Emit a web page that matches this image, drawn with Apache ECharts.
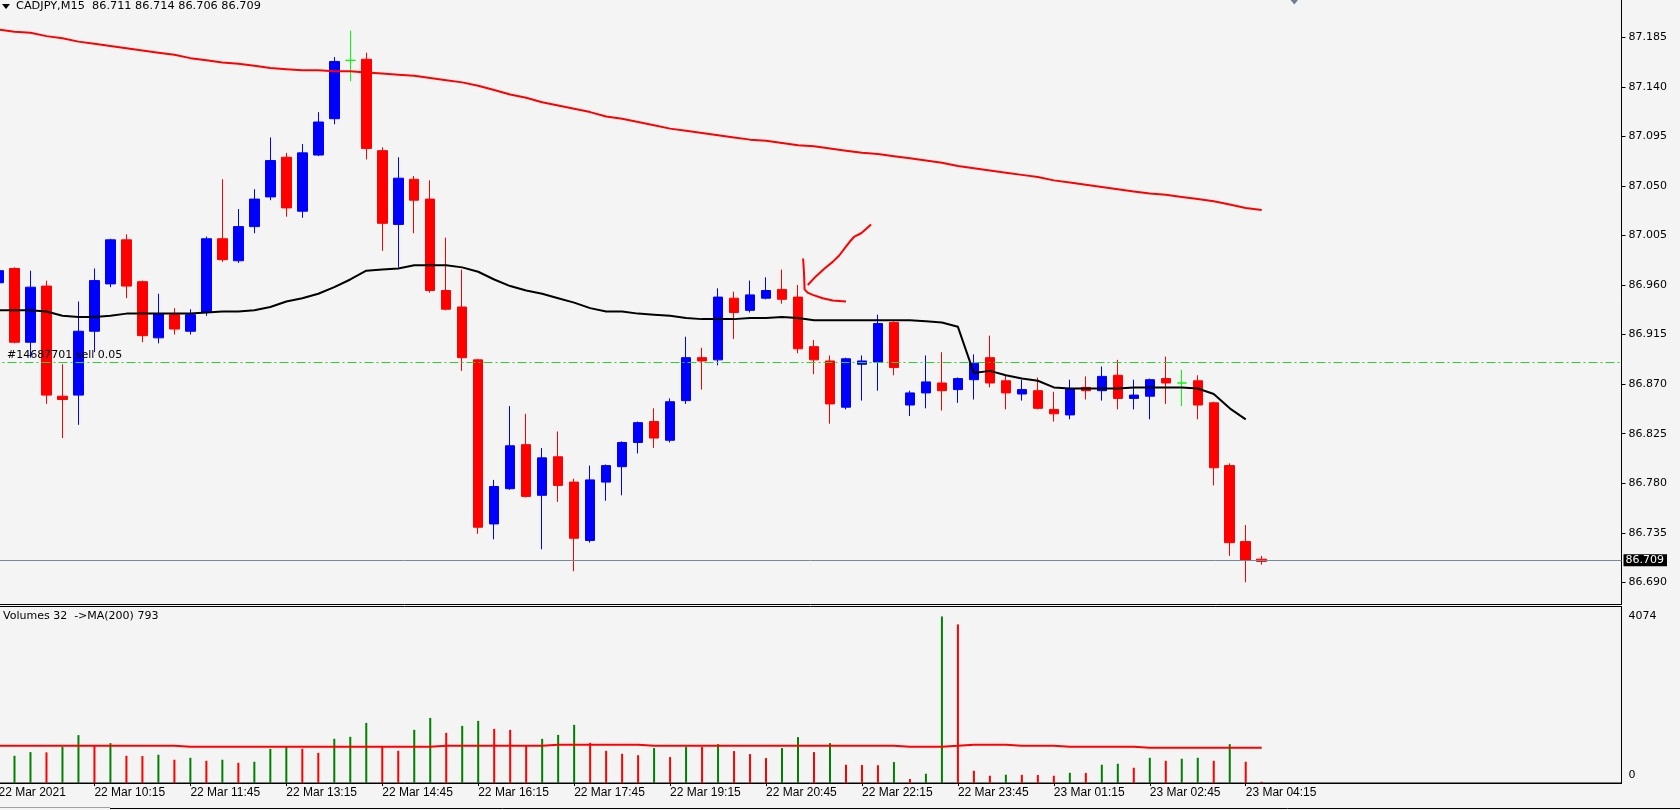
<!DOCTYPE html>
<html>
<head>
<meta charset="utf-8">
<script src="https://cdn.jsdelivr.net/npm/echarts@6/dist/echarts.min.js"></script>
<style>
html,body{margin:0;padding:0;background:#f4f4f4;}
#chart{width:1680px;height:810px;}
</style>
</head>
<body>
<div id="chart"></div>
<script>
// ---------------- DATA ----------------
const symbolName = 'CADJPY,M15';
// time-scale tick labels, one every 6 bars starting at the first (partly hidden) bar
const tickLabels = ['22 Mar 2021','22 Mar 10:15','22 Mar 11:45','22 Mar 13:15','22 Mar 14:45','22 Mar 16:15',
  '22 Mar 17:45','22 Mar 19:15','22 Mar 20:45','22 Mar 22:15','22 Mar 23:45','23 Mar 01:15','23 Mar 02:45','23 Mar 04:15'];
const emptySlots = 22; // chart shift space on the right

const opens  = [86.962,86.975,86.908,86.959,86.859,86.860,86.918,86.961,87.001,86.963,86.912,86.933,86.918,86.935,87.002,86.982,
  87.013,87.040,87.076,87.027,87.078,87.111,87.164,87.165,87.082,87.015,87.056,87.038,86.955,86.940,86.892,86.743,
  86.775,86.815,86.769,86.804,86.781,86.728,86.781,86.795,86.817,86.836,86.819,86.855,86.894,86.892,86.948,86.937,
  86.948,86.956,86.949,86.904,86.891,86.849,86.888,86.890,86.926,86.851,86.862,86.871,86.865,86.874,86.894,86.873,
  86.861,86.864,86.847,86.842,86.867,86.864,86.878,86.857,86.859,86.875,86.871,86.873,86.853,86.796,86.727,86.711];
const highs  = [86.975,86.976,86.973,86.964,86.888,86.945,86.975,87.002,87.006,86.964,86.952,86.939,86.938,87.004,87.056,87.029,
  87.047,87.094,87.080,87.088,87.117,87.167,87.191,87.171,87.085,87.076,87.059,87.055,87.003,86.974,86.893,86.783,
  86.850,86.843,86.812,86.827,86.784,86.796,86.797,86.818,86.836,86.848,86.857,86.913,86.903,86.957,86.954,86.964,
  86.967,86.974,86.960,86.910,86.896,86.894,86.896,86.933,86.927,86.864,86.896,86.899,86.876,86.897,86.914,86.878,
  86.874,86.876,86.863,86.874,86.877,86.886,86.892,86.874,86.875,86.895,86.883,86.878,86.854,86.798,86.742,86.714];
const lows   = [86.955,86.907,86.894,86.852,86.821,86.833,86.899,86.958,86.948,86.908,86.907,86.915,86.915,86.932,86.981,86.980,
  87.007,87.037,87.022,87.021,87.077,87.106,87.145,87.074,86.991,86.976,87.007,86.953,86.937,86.882,86.734,86.729,
  86.774,86.767,86.720,86.763,86.700,86.726,86.764,86.769,86.807,86.812,86.817,86.852,86.865,86.887,86.911,86.935,
  86.947,86.943,86.898,86.879,86.834,86.847,86.855,86.864,86.878,86.841,86.848,86.846,86.853,86.856,86.867,86.847,
  86.855,86.847,86.836,86.838,86.856,86.855,86.847,86.847,86.838,86.852,86.850,86.838,86.778,86.714,86.690,86.706];
const closes = [86.973,86.908,86.958,86.860,86.856,86.918,86.964,87.001,86.959,86.914,86.934,86.920,86.933,87.002,86.983,87.013,
  87.038,87.073,87.030,87.080,87.108,87.163,87.164,87.084,87.016,87.057,87.037,86.955,86.938,86.894,86.740,86.777,
  86.814,86.768,86.803,86.778,86.730,86.783,86.796,86.817,86.835,86.821,86.854,86.894,86.891,86.949,86.935,86.951,
  86.955,86.947,86.902,86.892,86.852,86.893,86.891,86.925,86.885,86.862,86.872,86.864,86.875,86.889,86.871,86.862,
  86.865,86.848,86.843,86.866,86.864,86.877,86.857,86.860,86.874,86.871,86.871,86.851,86.794,86.726,86.710,86.709];

// moving averages on the price window
const maRed   = [87.192,87.190,87.189,87.186,87.184,87.181,87.179,87.177,87.175,87.173,87.171,87.169,87.166,87.164,87.162,87.161,
  87.159,87.157,87.156,87.155,87.155,87.154,87.154,87.153,87.152,87.151,87.150,87.148,87.146,87.144,87.141,87.137,
  87.133,87.130,87.126,87.123,87.120,87.117,87.113,87.111,87.108,87.105,87.102,87.100,87.098,87.096,87.094,87.092,
  87.091,87.089,87.087,87.086,87.084,87.082,87.080,87.079,87.077,87.075,87.073,87.071,87.068,87.066,87.064,87.062,
  87.060,87.058,87.055,87.053,87.051,87.049,87.047,87.045,87.043,87.042,87.040,87.038,87.036,87.033,87.030,87.028];
const maBlack = [86.937,86.937,86.937,86.936,86.932,86.931,86.931,86.932,86.934,86.934,86.934,86.934,86.934,86.935,86.936,86.936,
  86.937,86.940,86.945,86.948,86.952,86.958,86.965,86.973,86.974,86.975,86.978,86.978,86.978,86.976,86.972,86.965,
  86.959,86.955,86.952,86.948,86.944,86.939,86.936,86.936,86.934,86.933,86.932,86.930,86.929,86.929,86.929,86.930,
  86.930,86.931,86.930,86.928,86.928,86.928,86.928,86.928,86.928,86.928,86.927,86.926,86.922,86.880,86.882,86.878,
  86.875,86.873,86.867,86.866,86.866,86.866,86.866,86.867,86.867,86.867,86.867,86.866,86.861,86.848,86.838,null];

// volumes window
const volumes = [600,666,756,750,886,1171,910,976,666,660,691,569,617,544,569,495,
  520,837,886,837,739,1081,1130,1471,886,788,1300,1593,1227,1398,1520,1325,
  1300,910,1081,1178,1423,983,788,715,680,854,634,886,880,951,781,708,
  610,854,1122,756,976,447,440,435,512,98,227,4074,3880,300,178,203,
  200,195,178,251,248,447,471,373,617,544,593,617,544,951,520,32];
const volumeMA = [910,910,910,910,910,910,910,910,910,910,910,910,886,886,886,886,
  886,886,886,886,886,886,886,886,886,886,886,886,910,910,910,910,
  910,910,910,935,935,935,935,935,935,910,910,910,910,910,910,910,
  910,910,910,910,910,910,910,910,910,886,886,886,910,935,935,935,
  910,910,910,886,886,886,886,886,861,861,861,861,861,861,861,861];
const volumeMALabel = 793;

const priceTicks = [86.690,86.735,86.780,86.825,86.870,86.915,86.960,87.005,87.050,87.095,87.140,87.185];
const volumeTicks = [0, 4074];
const bidPrice = 86.709;
const orderPrice = 86.888;
const orderLabel = '#14687701 sell 0.05';

// hand-drawn red annotation, [bar position, price]
const sketchStroke1 = [[49.32,86.984],[49.38,86.970],[49.41,86.956],[49.60,86.953],[49.92,86.951],[50.55,86.948],[51.17,86.946],[52.00,86.945]];
const sketchStroke2 = [[49.61,86.960],[50.13,86.968],[50.66,86.975],[51.17,86.981],[51.59,86.987],[52.01,86.995],[52.22,86.999],[52.53,87.004],[52.95,87.007],[53.27,87.011],[53.57,87.015]];

// ---------------- BUILD ----------------
const nBars = opens.length;
const nSlots = nBars + emptySlots;
const slotLabels = Array.from({length: nSlots}, (_, i) =>
  (i % 6 === 0 && i / 6 < tickLabels.length) ? tickLabels[i / 6] : '');
const categories = slotLabels.map((_, i) => String(i));

const GREEN_DOJI = '#00ff00';
const candleData = opens.map((o, i) => {
  const item = {value: [o, closes[i], lows[i], highs[i]]};
  if (o === closes[i]) {
    item.itemStyle = {color: GREEN_DOJI, color0: GREEN_DOJI, borderColor: GREEN_DOJI, borderColor0: GREEN_DOJI};
  }
  return item;
});
const volData = volumes.map((v, i) => ({
  value: v,
  itemStyle: {color: (i === 0 || v > volumes[i - 1]) ? '#008000' : '#ff0000'}
}));

const last = nBars - 1;
const fmt = v => v.toFixed(3);
const headerText = `${symbolName}  ${fmt(opens[last])} ${fmt(highs[last])} ${fmt(lows[last])} ${fmt(closes[last])}`;
const volText = `Volumes ${volumes[last]}  ->MA(200) ${volumeMALabel}`;

const FONT = 'DejaVu Sans';
const TIMEFONT = 'Liberation Sans';

const chart = echarts.init(document.getElementById('chart'), null, {renderer: 'canvas'});
const GRID_LEFT = -9.5, GRID_W = 1631;

const option = {
  animation: false,
  backgroundColor: '#f4f4f4',
  title: [
    {text: headerText, left: 16, top: 0.5, padding: 0,
     textStyle: {fontFamily: FONT, fontSize: 11.3, fontWeight: 'normal', color: '#000'}},
    {text: volText, left: 3, top: 611, padding: 0,
     textStyle: {fontFamily: FONT, fontSize: 11, fontWeight: 'normal', color: '#000'}}
  ],
  grid: [
    {left: GRID_LEFT, width: GRID_W, top: 0, height: 604, outerBoundsMode: 'none', containLabel: false},
    {left: GRID_LEFT, width: GRID_W, top: 606.5, height: 176.5, show: true, outerBoundsMode: 'none', containLabel: false,
     borderColor: '#000', borderWidth: 1, backgroundColor: 'transparent'}
  ],
  xAxis: [
    {type: 'category', gridIndex: 0, data: categories, boundaryGap: true,
     axisLine: {show: true, onZero: false, lineStyle: {color: '#000', width: 1}},
     axisTick: {show: false}, axisLabel: {show: false}, splitLine: {show: false}},
    {type: 'category', gridIndex: 1, data: categories, boundaryGap: true,
     axisLine: {show: true, onZero: false, lineStyle: {color: '#000', width: 1}},
     axisTick: {show: true, alignWithLabel: true, length: 3, lineStyle: {color: '#000'},
       interval: (idx) => slotLabels[idx] !== ''},
     axisLabel: {show: true, interval: (idx) => slotLabels[idx] !== '',
       formatter: (val, idx) => slotLabels[idx], align: 'left', margin: 4,
       color: '#000', fontFamily: TIMEFONT, fontSize: 12},
     splitLine: {show: false}},
    {type: 'value', gridIndex: 0, min: -1.5, max: nSlots - 1.5, show: false,
     axisLine: {onZero: false}}
  ],
  yAxis: [
    {type: 'value', gridIndex: 0, position: 'right', min: 86.6703, max: 87.2188,
     axisLine: {show: true, onZero: false, lineStyle: {color: '#000', width: 1}},
     axisTick: {show: true, customValues: priceTicks, length: 4, lineStyle: {color: '#000'}},
     axisLabel: {customValues: priceTicks, formatter: v => v.toFixed(3), margin: 7,
       color: '#000', fontFamily: FONT, fontSize: 11},
     splitLine: {show: false}},
    {type: 'value', gridIndex: 1, position: 'right', min: 0, max: 4318,
     axisLine: {show: true, onZero: false, lineStyle: {color: '#000', width: 1}},
     axisTick: {show: false},
     axisLabel: {customValues: volumeTicks, margin: 7, color: '#000', fontFamily: FONT, fontSize: 11,
       formatter: v => v === 0 ? '{z|0}' : String(v),
       rich: {z: {padding: [0, 0, 16, 0], fontFamily: FONT, fontSize: 11, color: '#000'}}},
     splitLine: {show: false}}
  ],
  series: [
    {type: 'line', name: 'levels', xAxisIndex: 0, yAxisIndex: 0, data: [], z: 1, silent: true,
     markLine: {symbol: ['none', 'none'], silent: true, animation: false,
       data: [
         {yAxis: orderPrice, lineStyle: {color: '#32cd32', type: [9, 3, 2, 3], width: 1},
          label: {show: true, position: 'insideStartTop', formatter: orderLabel, distance: [16.5, 1],
            color: '#000', fontFamily: FONT, fontSize: 11}},
         {yAxis: bidPrice, lineStyle: {color: '#778899', type: 'solid', width: 1},
          label: {show: true, position: 'end', formatter: fmt(bidPrice), distance: 2,
            backgroundColor: '#000', color: '#fff', padding: [1, 3, 0, 2],
            fontFamily: FONT, fontSize: 11}}
       ]}},
    {type: 'candlestick', name: 'price', xAxisIndex: 0, yAxisIndex: 0, data: candleData, z: 3,
     barWidth: 10,
     itemStyle: {color: '#0000ff', color0: '#ff0000', borderColor: '#0000ff', borderColor0: '#ff0000', borderWidth: 1}},
    {type: 'line', name: 'MA red', xAxisIndex: 0, yAxisIndex: 0, data: maRed, z: 4,
     showSymbol: false, symbol: 'none', silent: true, lineStyle: {color: '#ff0000', width: 2}},
    {type: 'line', name: 'MA black', xAxisIndex: 0, yAxisIndex: 0, data: maBlack, z: 4,
     showSymbol: false, symbol: 'none', silent: true, lineStyle: {color: '#000000', width: 2}},
    {type: 'line', name: 'sketch1', xAxisIndex: 2, yAxisIndex: 0, data: sketchStroke1, z: 5,
     showSymbol: false, symbol: 'none', silent: true, lineStyle: {color: '#ff0000', width: 2}},
    {type: 'line', name: 'sketch2', xAxisIndex: 2, yAxisIndex: 0, data: sketchStroke2, z: 5,
     showSymbol: false, symbol: 'none', silent: true, lineStyle: {color: '#ff0000', width: 2}},
    {type: 'bar', name: 'Volumes', xAxisIndex: 1, yAxisIndex: 1, data: volData, barWidth: 2, z: 2, silent: true},
    {type: 'line', name: 'Volume MA', xAxisIndex: 1, yAxisIndex: 1, data: volumeMA, z: 3,
     showSymbol: false, symbol: 'none', silent: true, lineStyle: {color: '#ff0000', width: 2}}
  ],
  graphic: [
    {type: 'polygon', shape: {points: [[2, 4], [10, 4], [6, 9]]}, style: {fill: '#000'}, silent: true},
    {type: 'polygon', shape: {points: [[1290.5, 0], [1298, 0], [1294.3, 4.5]]}, style: {fill: '#708090'}, silent: true},
    {type: 'line', shape: {x1: 0, y1: 807.5, x2: 110, y2: 807.5}, style: {stroke: '#a0a0a0', lineWidth: 1}, silent: true},
    {type: 'line', shape: {x1: 110, y1: 808.5, x2: 1680, y2: 808.5}, style: {stroke: '#000', lineWidth: 1}, silent: true}
  ]
};
chart.setOption(option);
</script>
</body>
</html>
